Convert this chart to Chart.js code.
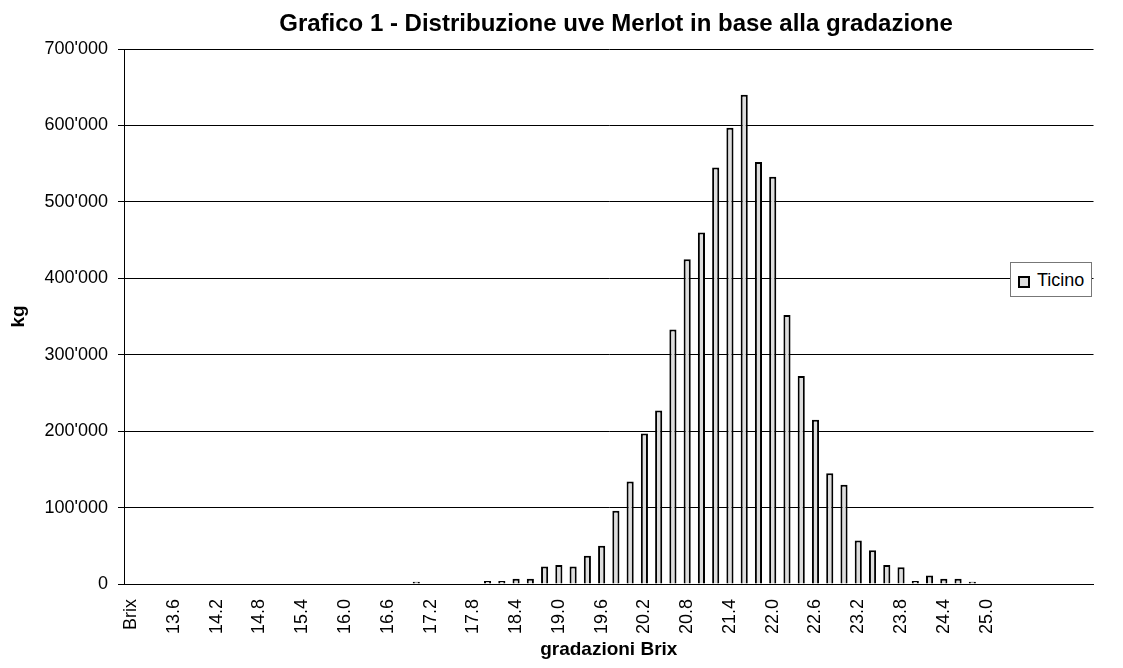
<!DOCTYPE html>
<html>
<head>
<meta charset="utf-8">
<script src="https://cdn.jsdelivr.net/npm/chart.js@4.4.1/dist/chart.umd.min.js"></script>
<style>
  body { margin:0; background:#fff; font-family:"Liberation Sans", Arial, sans-serif; }
  #wrap { position:relative; width:1123px; height:668px; }
  #title { position:absolute; top:8px; left:616px; transform:translateX(-50%); white-space:nowrap;
           font-weight:bold; font-size:24px; line-height:30px; color:#000; }
  #legend { position:absolute; left:1010px; top:262px; width:80px; height:33px; background:#fff;
            border:1px solid #777; }
  #legend .sw { position:absolute; left:7px; top:13px; width:12px; height:12px; box-sizing:border-box;
                border:2px solid #000; background:#ddd; }
  #legend .txt { position:absolute; left:26px; top:6px; font-size:18px; line-height:22px; color:#000; }
</style>
</head>
<body>
<div id="wrap">
  <canvas id="myChart"></canvas>
  <div id="title">Grafico 1 - Distribuzione uve Merlot in base alla gradazione</div>
  <div id="legend"><span class="sw"></span><span class="txt">Ticino</span></div>
</div>
<script>
// categories (gradazioni Brix), one every 0.2 - labels shown every 3rd one
const brix = ["Brix",
  "13.2","13.4","13.6","13.8","14.0","14.2","14.4","14.6","14.8","15.0",
  "15.2","15.4","15.6","15.8","16.0","16.2","16.4","16.6","16.8","17.0",
  "17.2","17.4","17.6","17.8","18.0","18.2","18.4","18.6","18.8","19.0",
  "19.2","19.4","19.6","19.8","20.0","20.2","20.4","20.6","20.8","21.0",
  "21.2","21.4","21.6","21.8","22.0","22.2","22.4","22.6","22.8","23.0",
  "23.2","23.4","23.6","23.8","24.0","24.2","24.4","24.6","24.8","25.0",
  "","","","","","",""]

// kg Ticino
const ticino = [0,
  0,0,0,0,0,0,0,0,0,0,
  0,0,0,0,0,0,0,0,0,3000,
  0,0,0,0,4000,4000,7000,7000,23000,25000,
  23000,37000,50000,96000,134000,197000,227000,333000,425000,460000,
  545000,597000,640000,552000,533000,352000,272000,215000,145000,130000,
  57000,44000,25000,22000,4000,11000,7000,7000,3000,0,
  0,0,0,0,0,0,0]

const yTicks = [0,100000,200000,300000,400000,500000,600000,700000]

function fmt(v){
  return String(v).replace(/\B(?=(\d{3})+(?!\d))/g, "'")
}

const ctx = document.getElementById('myChart')

new Chart(ctx, {
  type: 'bar',
  data: {
    labels: brix,
    datasets: [{
      label: 'Ticino',
      data: ticino,
      backgroundColor: '#dddddd',
      borderColor: '#000',
      borderWidth: 2,
      barPercentage: 1,
      categoryPercentage: 0.5
    }]
  },
  options: {
    responsive: true,
    maintainAspectRatio: false,
    animation: false,
    layout: { padding: { top: 49, right: 1, left: 0, bottom: 0 } },
    plugins: {
      legend: { display: false },
      title: { display: false },
      tooltip: { enabled: false }
    },
    scales: {
      x: {
        grid: { display: false, drawTicks: false },
        border: { display: true, color: '#000', width: 1 },
        ticks: {
          autoSkip: false,
          maxRotation: 90,
          minRotation: 90,
          padding: 15,
          color: '#000',
          font: { family: 'Liberation Sans', size: 18 },
          callback: (val, i) => i % 3 === 0 ? brix[i] : ''
        },
        title: {
          display: true,
          text: 'gradazioni Brix',
          color: '#000',
          font: { family: 'Liberation Sans', size: 19, weight: 'bold' },
          padding: { top: 0, bottom: 7 }
        },
        afterFit: s => { s.height = 84 }
      },
      y: {
        min: 0,
        max: 700000,
        afterBuildTicks: s => { s.ticks = yTicks.map(v => ({ value: v })) },
        grid: { color: '#000', lineWidth: 1, drawTicks: true, tickLength: 6, tickColor: '#000' },
        border: { display: true, color: '#000', width: 1 },
        ticks: {
          padding: 10,
          color: '#000',
          font: { family: 'Liberation Sans', size: 18 },
          callback: v => fmt(v)
        },
        title: {
          display: true,
          text: 'kg',
          color: '#000',
          font: { family: 'Liberation Sans', size: 19, weight: 'bold' },
          padding: { top: 7, bottom: 0 }
        },
        afterFit: s => { s.width = 124 }
      }
    }
  }
})
</script>
</body>
</html>
